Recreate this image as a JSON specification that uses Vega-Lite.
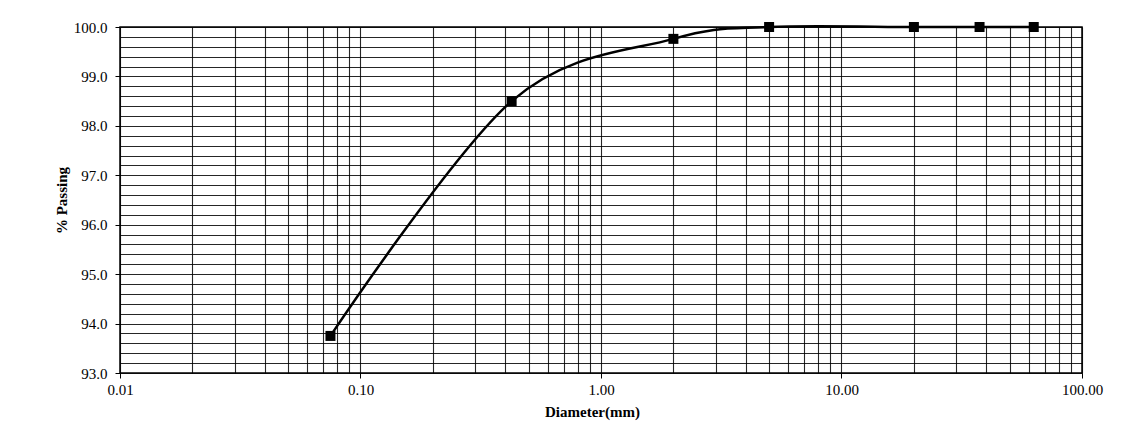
{
  "$schema": "https://vega.github.io/schema/vega-lite/v6.json",
  "autosize": {"type": "none"},
  "padding": {"left": 120, "top": 27, "right": 41, "bottom": 72},
  "width": 962,
  "height": 346,
  "background": "white",
  "config": {
    "view": {"stroke": "black", "strokeWidth": 1.5},
    "font": "Liberation Serif",
    "axis": {
      "labelFont": "Liberation Serif",
      "titleFont": "Liberation Serif",
      "labelColor": "black",
      "titleColor": "black",
      "domainColor": "black",
      "tickColor": "black",
      "gridColor": "black",
      "gridOpacity": 0.85,
      "gridWidth": 1.1
    }
  },
  "data": {
    "values": [
      {"diameter": 0.075, "passing": 93.75},
      {"diameter": 0.425, "passing": 98.5},
      {"diameter": 2.0, "passing": 99.76},
      {"diameter": 5.0, "passing": 100.0},
      {"diameter": 20.0, "passing": 100.0},
      {"diameter": 37.5, "passing": 100.0},
      {"diameter": 63.0, "passing": 100.0}
    ]
  },
  "mark": {
    "type": "line",
    "color": "black",
    "strokeWidth": 2.5,
    "interpolate": "cardinal",
    "tension": 0,
    "clip": false,
    "point": {"shape": "square", "size": 100, "filled": true, "color": "black", "opacity": 1}
  },
  "encoding": {
    "x": {
      "field": "diameter",
      "type": "quantitative",
      "scale": {"type": "log", "domain": [0.01, 100], "nice": false},
      "axis": {
        "title": "Diameter(mm)",
        "titleFontSize": 15,
        "titleFontWeight": "bold",
        "titleX": 472,
        "titlePadding": 7,
        "values": [0.01, 0.02, 0.03, 0.04, 0.05, 0.06, 0.07, 0.08, 0.09, 0.1, 0.2, 0.3, 0.4, 0.5, 0.6, 0.7, 0.8, 0.9, 1, 2, 3, 4, 5, 6, 7, 8, 9, 10, 20, 30, 40, 50, 60, 70, 80, 90, 100],
        "labelExpr": "abs(log(datum.value)/LN10 - round(log(datum.value)/LN10)) < 1e-6 ? format(datum.value, '.2f') : ''",
        "labelFontSize": 15,
        "labelPadding": 4,
        "labelFlush": false,
        "labelOverlap": false,
        "tickSize": 5,
        "tickOpacity": {"condition": {"test": "abs(log(datum.value)/LN10 - round(log(datum.value)/LN10)) < 1e-6", "value": 1}, "value": 0},
        "domain": false,
        "grid": true
      }
    },
    "y": {
      "field": "passing",
      "type": "quantitative",
      "scale": {"domain": [93, 100], "nice": false, "zero": false},
      "axis": {
        "title": "% Passing",
        "titleFontSize": 15,
        "titleFontWeight": "bold",
        "titlePadding": 4,
        "values": [93, 93.2, 93.4, 93.6, 93.8, 94, 94.2, 94.4, 94.6, 94.8, 95, 95.2, 95.4, 95.6, 95.8, 96, 96.2, 96.4, 96.6, 96.8, 97, 97.2, 97.4, 97.6, 97.8, 98, 98.2, 98.4, 98.6, 98.8, 99, 99.2, 99.4, 99.6, 99.8, 100],
        "labelExpr": "abs(datum.value - round(datum.value)) < 1e-6 ? format(datum.value, '.1f') : ''",
        "labelFontSize": 15,
        "labelPadding": 8,
        "labelFlush": false,
        "labelOverlap": false,
        "tickSize": 5,
        "tickOpacity": {"condition": {"test": "abs(datum.value - round(datum.value)) < 1e-6", "value": 1}, "value": 0},
        "domain": false,
        "grid": true
      }
    }
  }
}
